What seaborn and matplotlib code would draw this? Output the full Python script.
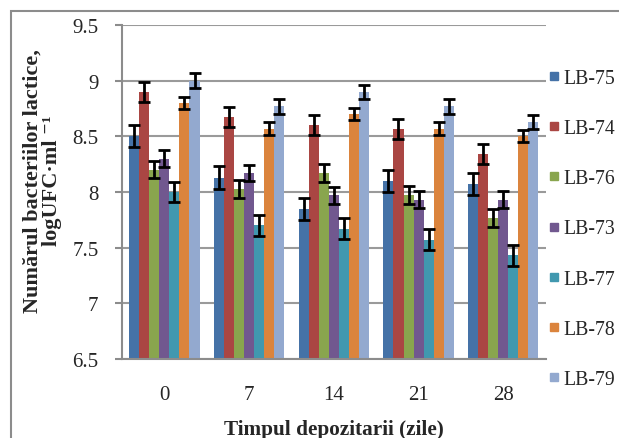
import matplotlib
matplotlib.use("Agg")
import matplotlib.pyplot as plt
import seaborn as sns
import pandas as pd
import numpy as np
from matplotlib.patches import Rectangle
from matplotlib.lines import Line2D
from matplotlib.ticker import FixedLocator, FuncFormatter

days = ["0", "7", "14", "21", "28"]
strains = ["LB-75", "LB-74", "LB-76", "LB-73", "LB-77", "LB-78", "LB-79"]

lb75 = [8.50, 8.13, 7.85, 8.10, 8.07]
lb74 = [8.90, 8.67, 8.60, 8.57, 8.34]
lb76 = [8.20, 8.03, 8.17, 7.97, 7.77]
lb73 = [8.30, 8.17, 7.97, 7.93, 7.93]
lb77 = [8.00, 7.70, 7.67, 7.57, 7.43]
lb78 = [8.80, 8.57, 8.70, 8.57, 8.50]
lb79 = [9.00, 8.77, 8.90, 8.77, 8.63]

err75 = [0.10, 0.10, 0.10, 0.10, 0.10]
err74 = [0.09, 0.09, 0.09, 0.09, 0.09]
err76 = [0.075, 0.08, 0.08, 0.08, 0.08]
err73 = [0.075, 0.075, 0.075, 0.075, 0.075]
err77 = [0.09, 0.095, 0.095, 0.095, 0.095]
err78 = [0.055, 0.06, 0.055, 0.055, 0.055]
err79 = [0.065, 0.065, 0.065, 0.065, 0.065]

values = [lb75, lb74, lb76, lb73, lb77, lb78, lb79]
errors = [err75, err74, err76, err73, err77, err78, err79]
colors = ["#4572A7", "#AA4643", "#89A54E", "#71588F", "#4198AF", "#DB843D", "#93A9CF"]

yticks = [6.5, 7, 7.5, 8, 8.5, 9, 9.5]

rows = []
for s, vals in zip(strains, values):
    for d, v in zip(days, vals):
        rows.append({"day": d, "strain": s, "value": v})
df = pd.DataFrame(rows)

sns.set_style("white")
serif = ["Liberation Serif", "DejaVu Serif"]
plt.rcParams["font.family"] = serif
FS = 15

fig = plt.figure(figsize=(6.19, 4.39), dpi=100)
ax = fig.add_axes([122/619, 1-360/439, (545.7-122)/619, (360-26)/439])

sns.barplot(data=df, x="day", y="value", hue="strain", order=days,
            hue_order=strains, palette=colors, width=0.83, errorbar=None,
            saturation=1, ax=ax, legend=False, zorder=2, linewidth=0,
            edgecolor="none")

for cont, errs in zip(ax.containers, errors):
    xs = [p.get_x() + p.get_width() / 2 for p in cont.patches]
    ys = [p.get_height() for p in cont.patches]
    ax.errorbar(xs, ys, yerr=errs, fmt="none", ecolor="black",
                elinewidth=2, capsize=4.3, capthick=2, zorder=3)

ax.set_ylim(6.5, 9.5)
ax.set_xlim(-0.5, 4.5)
ax.yaxis.set_major_locator(FixedLocator(yticks))
ax.yaxis.set_major_formatter(FuncFormatter(lambda v, p: f"{v:g}"))
ax.set_xticks(range(len(days)))
ax.set_xticklabels(days)
ax.set_xticks(np.arange(-0.5, len(days), 1.0), minor=True)
ax.tick_params(axis="x", which="major", length=0, pad=19, labelsize=FS)
ax.tick_params(axis="x", which="minor", length=5, width=1.5, color="#8c8c8c", direction="out")
ax.tick_params(axis="y", which="major", length=5, width=1.5, color="#8c8c8c",
               direction="out", pad=12, labelsize=FS, left=True)
ax.grid(axis="y", color="#9a9a9a", linewidth=1.5, zorder=0)
ax.set_axisbelow(True)
for s in ["top", "right"]:
    ax.spines[s].set_visible(False)
for s in ["left", "bottom"]:
    ax.spines[s].set_color("#8c8c8c")
    ax.spines[s].set_linewidth(1.5)
ax.set_xlabel("")
ax.set_ylabel("")

fig.text(42/619, 1-181/439, "Numărul bacteriilor lactice,\nlogUFC·ml ⁻¹", rotation=90,
         ha="center", va="center", multialignment="center", fontsize=16,
         fontweight="bold", family=serif, linespacing=0.95)
fig.text(334/619, 1-430/439, "Timpul depozitarii (zile)", ha="center", va="center",
         fontsize=15.3, fontweight="bold", family=serif)

handles = [Line2D([], [], marker="s", linestyle="", color=c, markersize=5.5) for c in colors]
fig.legend(handles, strains, loc="upper left", bbox_to_anchor=(549/619, 1-70/439),
           frameon=False, fontsize=14.2, labelspacing=1.58, handlelength=0.5,
           handletextpad=0.25, borderpad=0, borderaxespad=0)

fig.add_artist(Rectangle((11/619, -0.1), 1.2, 1.1 - 12/439, transform=fig.transFigure,
                         fill=False, edgecolor="#8c8c8c", linewidth=1.5))

fig.savefig("out.png", dpi=100)
